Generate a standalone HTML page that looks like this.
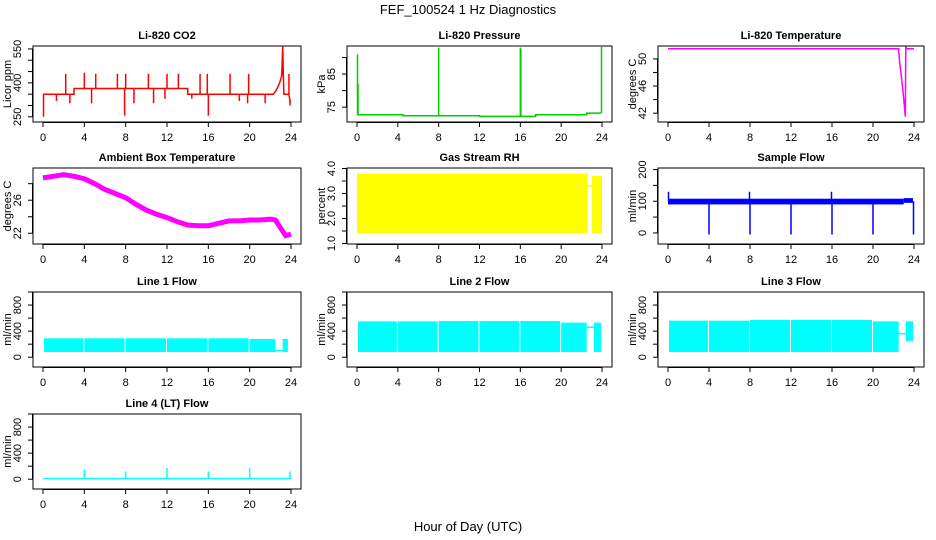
<!DOCTYPE html>
<html><head><meta charset="utf-8"><style>
body{margin:0;background:#fff;}
svg{display:block;font-family:"Liberation Sans",Arial,sans-serif;}
</style></head><body>
<svg id="chart" width="936" height="540" xmlns="http://www.w3.org/2000/svg">
<rect width="936" height="540" fill="#fff"/>
<text x="468" y="14" text-anchor="middle" font-size="13">FEF_100524  1 Hz Diagnostics</text>
<text x="468" y="531" text-anchor="middle" font-size="13">Hour of Day (UTC)</text>
</svg>
<script>
// ---- x axis ----
const xTicks = [0,4,8,12,16,20,24];
// ---- CO2 ----
const co2LineX = [0,3,3,14,14,22.3,22.6,22.9,23.1,23.2,23.3,23.8,23.9,24];
const co2LineY = [350,350,375,375,350,350,370,400,430,560,350,350,320,320];
const co2SpikeX = [0.05,2.2,4.0,5.1,7.2,8.0,7.9,10.2,12.0,13.1,15.2,15.9,16.0,18.1,19.9,23.8,1.3,2.6,4.7,8.8,10.7,11.8,14.4,19.0,19.8,21.5,23.9];
const co2SpikeY = [250,440,445,440,440,440,255,440,440,440,440,440,255,440,440,440,320,310,310,310,310,330,330,320,310,310,300];
// ---- Pressure ----
const presLineX = [0,4.5,4.5,12,12,17.5,17.5,22.5,22.5,23.9];
const presLineY = [72.7,72.7,72.4,72.4,72.2,72.2,72.7,72.7,73.2,73.2];
const presSpikeX = [0.05,0.1,8.0,16.0,16.05,23.95];
const presSpikeY = [91,82,93,93,92.5,94];
// ---- Li-820 Temperature ----
const tempX = [0,22.5,22.6,22.8,23.0,23.15,23.2,23.3,24];
const tempY = [51.5,51.5,49.5,47,44,41.5,51.8,51.5,51.5];
// ---- Ambient ----
const ambX = [0,1,2,3,4,5,6,7,8,9,10,11,12,13,14,15,16,17,18,19,20,21,22,22.5,23,23.5,24];
const ambY = [28.7,28.9,29.1,28.9,28.6,28.0,27.3,26.8,26.3,25.5,24.8,24.3,23.9,23.4,23.0,22.9,22.9,23.2,23.5,23.5,23.6,23.6,23.7,23.6,22.6,21.7,21.9];
// ---- band panels: start, end, low, high ----
const rhStart=[0,23.0];const rhEnd=[22.6,24];const rhLo=[1.4,1.4];const rhHi=[3.8,3.7];
const sfStart=[0,23.0];const sfEnd=[23.0,23.9];const sfLo=[90,95];const sfHi=[108,110];
const sfSpikeX=[0.05,4.0,8.0,12.0,16.0,20.0,23.95,7.95,15.95];const sfSpikeY=[130,-5,-5,-5,-5,-5,-5,130,130];
const l1Start=[0.1,4.0,8.0,12.0,16.0,20.0,23.2];const l1End=[3.9,7.9,11.9,15.9,19.9,22.5,23.7];const l1Lo=[80,80,80,80,80,80,80];const l1Hi=[290,290,290,290,290,280,280];
const l2Start=[0.1,4.0,8.0,12.0,16.0,20.0,23.2];const l2End=[3.9,7.9,11.9,15.9,19.9,22.5,23.9];const l2Lo=[80,80,80,80,80,80,80];const l2Hi=[550,550,555,555,555,530,530];
const l3Start=[0.1,4.0,8.0,12.0,16.0,20.0,23.2];const l3End=[3.9,7.9,11.9,15.9,19.9,22.5,23.9];const l3Lo=[80,80,80,80,80,80,250];const l3Hi=[560,560,570,570,570,550,550];
const l4Start=[0];const l4End=[24];const l4Lo=[0];const l4Hi=[20];
const l4SpikeX=[4.0,8.0,12.0,16.0,20.0,23.9];const l4SpikeY=[150,120,170,120,170,120];

const NS="http://www.w3.org/2000/svg";
const svg=document.getElementById('chart');
function mk(tag,attrs,parent){const e=document.createElementNS(NS,tag);for(const k in attrs)e.setAttribute(k,attrs[k]);(parent||svg).appendChild(e);return e;}
const colL=[33,347,658],colR=[301,612,924],rowT=[46,168,292,414],rowB=[122,244,367,489];

function panel(name,col,row,title,ytitle,ymin,ymax,yticks,ylabels){
  const g=mk('g',{});
  
  
  const L=colL[col],R=colR[col],T=rowT[row],B=rowB[row];
  const x0=L+10,x1=R-10;
  const sx=h=>x0+(x1-x0)*h/24;
  const sy=v=>B-(B-T)*(v-ymin)/(ymax-ymin);
  const t=mk('text',{x:(L+R)/2,y:T-7,'text-anchor':'middle','font-size':11,'font-weight':'bold'},g);t.textContent=title;
  
  
  const box=mk('rect',{x:L,y:T,width:R-L,height:B-T,fill:'none',stroke:'#000','stroke-width':1},g);
  
  
  const xa=mk('g',{},g);
  
  
  mk('line',{x1:sx(0),x2:sx(24),y1:B+0.5,y2:B+0.5,stroke:'#000'},xa);
  xTicks.forEach(h=>{mk('line',{x1:sx(h),x2:sx(h),y1:B,y2:B+5,stroke:'#000'},xa);
    const tx=mk('text',{x:sx(h),y:B+19,'text-anchor':'middle','font-size':11},xa);tx.textContent=h;});
  const ya=mk('g',{},g);
  
  
  mk('line',{x1:L-0.5,x2:L-0.5,y1:sy(yticks[0]),y2:sy(yticks[yticks.length-1]),stroke:'#000'},ya);
  yticks.forEach((v,i)=>{const y=sy(v);mk('line',{x1:L-5,x2:L,y1:y,y2:y,stroke:'#000'},ya);
    if(ylabels[i]!==''){const tx=mk('text',{x:0,y:0,'text-anchor':'middle','font-size':11,transform:`translate(${L-12},${y}) rotate(-90)`},ya);tx.textContent=ylabels[i];}});
  const yt=mk('text',{x:0,y:0,'text-anchor':'middle','font-size':11,transform:`translate(${L-22},${(T+B)/2}) rotate(-90)`},g);yt.textContent=ytitle;
  
  
  const clip='clip-'+name;
  const cp=mk('clipPath',{id:clip},g);mk('rect',{x:L,y:T,width:R-L,height:B-T},cp);
  const data=mk('g',{'clip-path':`url(#${clip})`},g);
  
  
  return {sx,sy,g:data};
}
function line(p,xs,ys,color,w){
  const d=xs.map((x,i)=>(i?'L':'M')+p.sx(x).toFixed(1)+','+p.sy(ys[i]).toFixed(1)).join('');
  const e=mk('path',{d,fill:'none',stroke:color,'stroke-width':w||1.5},p.g);
  
  
}
function baseAt(xs,ys,h){for(let i=1;i<xs.length;i++){if(h<=xs[i]){const a=xs[i-1],b=xs[i];return b===a?ys[i]:ys[i-1]+(ys[i]-ys[i-1])*(h-a)/(b-a);}}return ys[ys.length-1];}
function spikes(p,sxA,syA,baseFn,color,w){
  sxA.forEach((h,i)=>{const e=mk('line',{x1:p.sx(h),x2:p.sx(h),y1:p.sy(baseFn(h)),y2:p.sy(syA[i]),stroke:color,'stroke-width':w||1.5},p.g);
  
  });
}
function bands(p,s,e,lo,hi,color){
  s.forEach((a,i)=>{const r=mk('rect',{x:p.sx(a),y:p.sy(hi[i]),width:p.sx(e[i])-p.sx(a),height:p.sy(lo[i])-p.sy(hi[i]),fill:color},p.g);
  
  });
}

// CO2
let p=panel('co2',0,0,'Li-820 CO2','Licor ppm',227,563,[250,300,350,400,450,500,550],['250','','','400','','','550']);
line(p,co2LineX,co2LineY,'#ff0000',1.5);
spikes(p,co2SpikeX,co2SpikeY,h=>baseAt(co2LineX,co2LineY,h),'#ff0000',1.5);
// Pressure
p=panel('pressure',1,0,'Li-820 Pressure','kPa',70.5,93.5,[75,80,85,90],['75','','85','']);
line(p,presLineX,presLineY,'#00cc00',1.5);
spikes(p,presSpikeX,presSpikeY,h=>baseAt(presLineX,presLineY,h),'#00cc00',1.5);
// Temperature
p=panel('li820-temp',2,0,'Li-820 Temperature','degrees C',40.7,51.9,[42,44,46,48,50],['42','','46','','50']);
line(p,tempX,tempY,'#ff00ff',1.5);
// Ambient
p=panel('ambient-temp',0,1,'Ambient Box Temperature','degrees C',20.7,29.9,[22,24,26,28],['22','','26','']);
line(p,ambX,ambY,'#ff00ff',5);
// RH
p=panel('gas-rh',1,1,'Gas Stream RH','percent',0.98,4.02,[1,1.5,2,2.5,3,3.5,4],['1.0','','2.0','','3.0','','4.0']);
bands(p,rhStart,rhEnd,rhLo,rhHi,'#ffff00');
line(p,[22.6,23.0],[3.3,3.3],'#ffff00',1.5);
// Sample flow
p=panel('sample-flow',2,1,'Sample Flow','ml/min',-35,205,[0,50,100,150,200],['0','','100','','200']);
bands(p,sfStart,sfEnd,sfLo,sfHi,'#0000ff');
spikes(p,sfSpikeX,sfSpikeY,()=>100,'#0000ff',1.5);
// Line flows
const fT=[0,200,400,600,800,1000],fL=['0','','400','','800',''];
p=panel('line1-flow',0,2,'Line 1 Flow','ml/min',-150,1000,fT,fL);
bands(p,l1Start,l1End,l1Lo,l1Hi,'#00ffff');
line(p,[22.5,23.2],[100,100],'#00ffff',1.5);
p=panel('line2-flow',1,2,'Line 2 Flow','ml/min',-150,1000,fT,fL);
bands(p,l2Start,l2End,l2Lo,l2Hi,'#00ffff');
line(p,[22.5,23.2],[460,460],'#00ffff',1.5);
p=panel('line3-flow',2,2,'Line 3 Flow','ml/min',-150,1000,fT,fL);
bands(p,l3Start,l3End,l3Lo,l3Hi,'#00ffff');
line(p,[22.5,23.2],[360,360],'#00ffff',1.5);
p=panel('line4-flow',0,3,'Line 4 (LT) Flow','ml/min',-150,1000,fT,fL);
bands(p,l4Start,l4End,l4Lo,l4Hi,'#00ffff');
spikes(p,l4SpikeX,l4SpikeY,()=>10,'#00ffff',1.5);
</script>
</body></html>
